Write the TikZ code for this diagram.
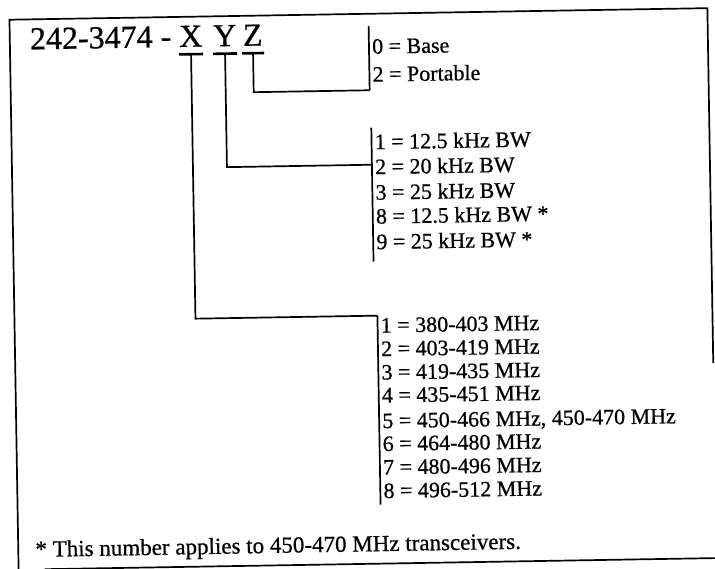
\documentclass[tikz,border=0pt]{standalone}
\usepackage{fontspec}
\setmainfont{Liberation Serif}[FakeBold=0.7]
\begin{document}
\begin{tikzpicture}[x=1pt,y=-1pt,
  rule/.style={line width=1.7pt},
  bar/.style={line width=2.6pt},
  item/.style={anchor=base west, inner sep=0pt, font=\fontsize{22}{23}\selectfont},
  note/.style={anchor=base west, inner sep=0pt, font=\fontsize{23}{24}\selectfont},
  ttl/.style={anchor=base west, inner sep=0pt, font=\fontsize{32}{34}\selectfont}]
\useasboundingbox (0,0) rectangle (715,569);
\begin{scope}[rotate around={0.95:(357,290)}, transform shape]
% border
\draw[rule] (712,369) -- (712,14) -- (14,14) -- (14,600);
\draw[rule] (40,564) -- (740,564);
% title
\node[ttl] (num) at (34,44) {242-3474 -};
\node[ttl, anchor=base] (X) at (195,44) {X};
\node[ttl, anchor=base] (Y) at (229,44) {Y};
\node[ttl, anchor=base] (Z) at (257,44) {Z};
% bars under letters
\coordinate (xb) at (195,51.5);
\coordinate (yb) at (229,51.5);
\coordinate (zb) at (257,51.5);
\draw[bar] ([xshift=-12pt]xb) -- ([xshift=12pt]xb);
\draw[bar] ([xshift=-12pt]yb) -- ([xshift=12pt]yb);
\draw[bar] ([xshift=-11pt]zb) -- ([xshift=11pt]zb);
% Z group
\coordinate (zT) at (373,26);
\coordinate (zB) at (373,90.5);
\draw[rule] (zT) -- (zB);
\draw[rule] (zb) |- (zB);
\node[item] (z0) at (376,54) {0 = Base};
\node[item] (z2) at (376,82) {2 = Portable};
% Y group
\coordinate (yT) at (374,128);
\coordinate (yB) at (374,262);
\coordinate (yJ) at (374,165);
\draw[rule] (yT) -- (yB);
\draw[rule] (yb) |- (yJ);
\node[item] (y1) at (377,149.5) {1 = 12.5 kHz BW};
\node[item] (y2) at (377,174.5) {2 = 20 kHz BW};
\node[item] (y3) at (377,200) {3 = 25 kHz BW};
\node[item] (y8) at (377,224) {8 = 12.5 kHz BW *};
\node[item] (y9) at (377,249.5) {9 = 25 kHz BW *};
% X group
\coordinate (xT) at (377,316);
\coordinate (xB) at (377,505);
\draw[rule] (xT) -- (xB);
\draw[rule] (xb) |- (xT);
\node[item] (x1) at (380,333) {1 = 380-403 MHz};
\node[item] (x2) at (380,356.5) {2 = 403-419 MHz};
\node[item] (x3) at (380,380) {3 = 419-435 MHz};
\node[item] (x4) at (380,403) {4 = 435-451 MHz};
\node[item] (x5) at (380,428.5) {5 = 450-466 MHz, 450-470 MHz};
\node[item] (x6) at (380,451.5) {6 = 464-480 MHz};
\node[item] (x7) at (380,475) {7 = 480-496 MHz};
\node[item] (x8) at (380,498.5) {8 = 496-512 MHz};
% footnote
\node[note] (fn) at (31,551.5) {* This number applies to 450-470 MHz transceivers.};
\end{scope}
\end{tikzpicture}
\end{document}
